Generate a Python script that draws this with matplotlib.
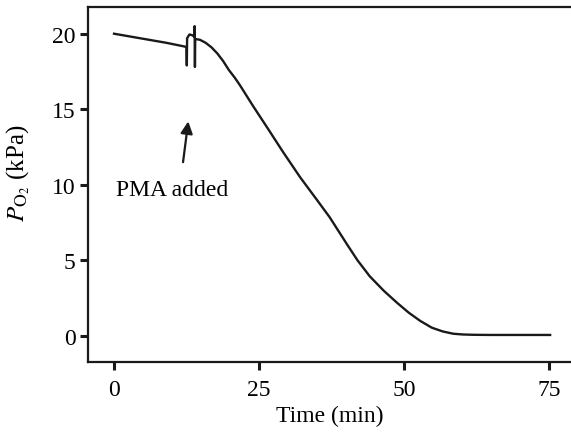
import matplotlib
matplotlib.use("Agg")
import matplotlib.pyplot as plt

plt.rcParams['font.family'] = ['Liberation Serif', 'DejaVu Serif']
plt.rcParams['mathtext.fontset'] = 'stix'

# trace (time in min, PO2 in kPa)
time = [0, 3, 6, 9, 12.2, 12.5, 12.55, 12.6, 13.0, 13.5, 13.85, 13.9, 13.95, 14.0,
        14.8, 15.8, 16.8, 17.8, 18.8, 19.8, 20.8, 21.7, 24.0, 26.4, 29.1, 32.1,
        35.0, 37.2, 40.2, 42.0, 44.1, 46.5, 48.8, 50.8, 52.8, 54.8, 56.7, 58.5,
        60.2, 62.0, 65, 70, 75.2]
po2 = [20.0, 19.8, 19.6, 19.4, 19.15, 19.1, 17.9, 19.7, 19.95, 19.9, 19.8, 20.5, 17.8, 19.65,
       19.6, 19.4, 19.1, 18.7, 18.2, 17.6, 17.1, 16.6, 15.2, 13.8, 12.2, 10.5,
       9.0, 7.85, 6.05, 5.0, 3.95, 3.0, 2.2, 1.55, 1.0, 0.55, 0.3, 0.15,
       0.1, 0.08, 0.07, 0.07, 0.07]

xticks = [0, 25, 50, 75]
yticks = [0, 5, 10, 15, 20]

fig = plt.figure(figsize=(5.71, 4.35), dpi=100)
ax = fig.add_axes([0.154, 0.1655, 0.846, 0.8155])

ax.plot(time, po2, color='#1a1a1a', lw=1.7)

ax.set_xlim(-4.5, 78.8)
ax.set_ylim(-1.72, 21.75)
ax.set_xticks(xticks)
ax.set_yticks(yticks)
ax.tick_params(labelsize=17, length=6, width=2.2, color='#1a1a1a')
ax.tick_params(axis='x', pad=6)
ax.tick_params(axis='y', pad=3)
for s in ['left', 'bottom', 'top']:
    ax.spines[s].set_linewidth(1.6)
    ax.spines[s].set_color('#1a1a1a')
ax.spines['right'].set_visible(False)

ax.set_xlabel('Time (min)', fontsize=17, labelpad=4)
ax.set_ylabel(r'$P_{\mathrm{O}_2}$ (kPa)', fontsize=18)
ax.yaxis.set_label_coords(-0.116, 0.535)

ax.annotate('', xy=(12.8, 14.2), xytext=(11.9, 11.5),
            arrowprops=dict(arrowstyle='-|>', color='#1a1a1a', lw=1.6,
                            mutation_scale=18, shrinkA=0, shrinkB=0))
ax.text(10.1, 9.7, 'PMA added', fontsize=17, ha='center', va='center')

plt.savefig('out.png')
